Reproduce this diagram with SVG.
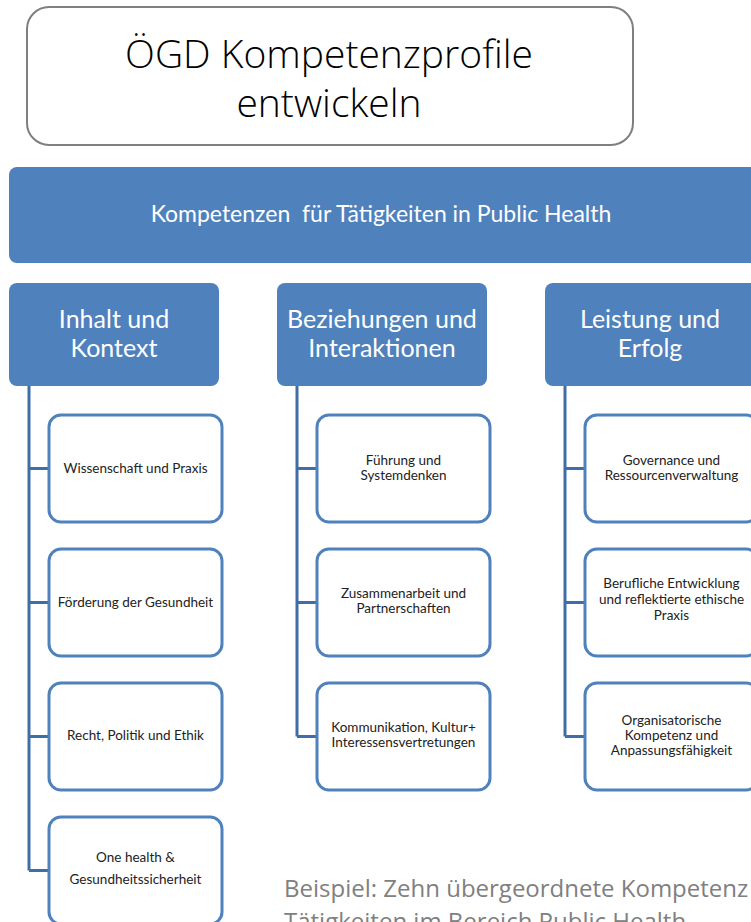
<svg xmlns="http://www.w3.org/2000/svg" width="751" height="922" viewBox="0 0 751 922">
<style>
.title{font-family:"Open Sans","Noto Sans",sans-serif;font-weight:300;font-size:39px;fill:#000;text-anchor:middle}
.hdr{fill:#4F81BD}
.hbar{font-family:Lato,"Liberation Sans",sans-serif;font-size:23px;fill:#fff;text-anchor:middle;white-space:pre}
.htxt{font-family:Lato,"Liberation Sans",sans-serif;font-size:25px;fill:#fff;text-anchor:middle}
.box{fill:#fff;stroke:#4F81BD;stroke-width:3}
.btxt{font-family:Lato,"Liberation Sans",sans-serif;font-size:13.5px;fill:#222;text-anchor:middle}
.con{stroke:#3F6DA8;stroke-width:3;fill:none}
.note{font-family:"Open Sans","Noto Sans",sans-serif;font-size:24px;fill:#808080}
</style>
<g id="title">
<rect x="27" y="7" width="606" height="138" rx="22" fill="#fff" stroke="#7F7F7F" stroke-width="2"/>
<text class="title" x="329" y="68">ÖGD Kompetenzprofile</text>
<text class="title" x="329" y="117">entwickeln</text>
</g>
<g id="root">
<rect class="hdr" x="9" y="167" width="750" height="96" rx="8"/>
<text class="hbar" x="381" y="222" xml:space="preserve">Kompetenzen  für Tätigkeiten in Public Health</text>
</g>
<g id="connectors">
<path class="con" d="M29 386V870.5M29 468.5H49M29 602.5H49M29 736.5H49M29 870.5H49"/>
<path class="con" d="M297 386V736.5M297 468.5H317M297 602.5H317M297 736.5H317"/>
<path class="con" d="M565 386V736.5M565 468.5H585M565 602.5H585M565 736.5H585"/>
</g>
<g id="col1">
<rect class="hdr" x="9" y="283" width="210" height="103" rx="8"/>
<text class="htxt" x="114" y="328">Inhalt und</text>
<text class="htxt" x="114" y="357">Kontext</text>
</g>
<g id="col2">
<rect class="hdr" x="277" y="283" width="210" height="103" rx="8"/>
<text class="htxt" x="382" y="328">Beziehungen und</text>
<text class="htxt" x="382" y="357">Interaktionen</text>
</g>
<g id="col3">
<rect class="hdr" x="545" y="283" width="214" height="103" rx="8"/>
<text class="htxt" x="650" y="328">Leistung und</text>
<text class="htxt" x="650" y="357">Erfolg</text>
</g>
<g id="c1a"><rect class="box" x="49" y="415" width="173" height="107" rx="12"/><text class="btxt" x="135.5" y="473">Wissenschaft und Praxis</text></g>
<g id="c1b"><rect class="box" x="49" y="549" width="173" height="107" rx="12"/><text class="btxt" x="135.5" y="607">Förderung der Gesundheit</text></g>
<g id="c1c"><rect class="box" x="49" y="683" width="173" height="107" rx="12"/><text class="btxt" x="135.5" y="740">Recht, Politik und Ethik</text></g>
<g id="c1d"><rect class="box" x="49" y="817" width="173" height="107" rx="12"/><text class="btxt" x="135.5" y="862">One health &amp;</text><text class="btxt" x="135.5" y="884">Gesundheitssicherheit</text></g>
<g id="c2a"><rect class="box" x="317" y="415" width="173" height="107" rx="12"/><text class="btxt" x="403.5" y="465">Führung und</text><text class="btxt" x="403.5" y="480">Systemdenken</text></g>
<g id="c2b"><rect class="box" x="317" y="549" width="173" height="107" rx="12"/><text class="btxt" x="403.5" y="598">Zusammenarbeit und</text><text class="btxt" x="403.5" y="613">Partnerschaften</text></g>
<g id="c2c"><rect class="box" x="317" y="683" width="173" height="107" rx="12"/><text class="btxt" x="403.5" y="732">Kommunikation, Kultur+</text><text class="btxt" x="403.5" y="747">Interessensvertretungen</text></g>
<g id="c3a"><rect class="box" x="585" y="415" width="173" height="107" rx="12"/><text class="btxt" x="671.5" y="465">Governance und</text><text class="btxt" x="671.5" y="480">Ressourcenverwaltung</text></g>
<g id="c3b"><rect class="box" x="585" y="549" width="173" height="107" rx="12"/><text class="btxt" x="671.5" y="588">Berufliche Entwicklung</text><text class="btxt" x="671.5" y="604">und reflektierte ethische</text><text class="btxt" x="671.5" y="620">Praxis</text></g>
<g id="c3c"><rect class="box" x="585" y="683" width="173" height="107" rx="12"/><text class="btxt" x="671.5" y="725">Organisatorische</text><text class="btxt" x="671.5" y="740">Kompetenz und</text><text class="btxt" x="671.5" y="755">Anpassungsfähigkeit</text></g>
<g id="note">
<text class="note" x="284" y="897">Beispiel: Zehn übergeordnete Kompetenz</text>
<text class="note" x="284" y="930">Tätigkeiten im Bereich Public Health</text>
</g>
</svg>
